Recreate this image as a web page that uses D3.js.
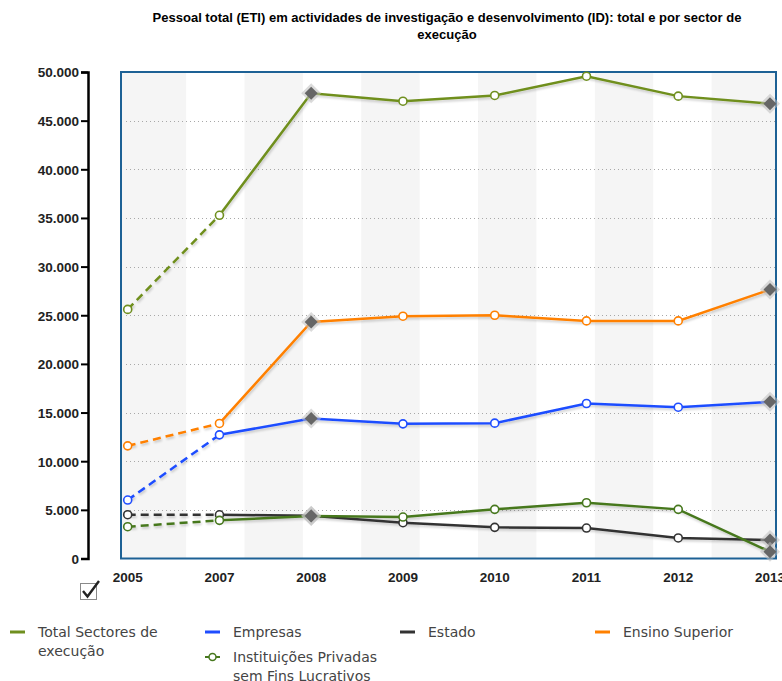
<!DOCTYPE html>
<html>
<head>
<meta charset="utf-8">
<script src="https://cdn.jsdelivr.net/npm/d3@7"></script>
<style>
  body { margin: 0; background: #fff; }
  svg { display: block; }
  .title { font: bold 13px "Liberation Sans", Arial, sans-serif; fill: #000; }
  .yaxis text { font: bold 13.5px "Liberation Sans", Arial, sans-serif; fill: #222; }
  .xlab { font: bold 13.5px "Liberation Sans", Arial, sans-serif; fill: #222; }
  .legend text { font: 14px "DejaVu Sans", Verdana, sans-serif; fill: #444; }
</style>
</head>
<body>
<div id="chart"></div>
<script>

var years = [ '2005', '2007', '2008', '2009', '2010', '2011', '2012', '2013' ];

var seriesNames = [ 'Total Sectores de execução', 'Empresas', 'Estado', 'Ensino Superior', 'Instituições Privadas sem Fins Lucrativos' ];
var seriesColors = [ '#6f8f1f', '#1f4dff', '#333333', '#ff8000', '#47781e' ];

var totalValues = [ 25600, 35270, 47820, 47000, 47590, 49570, 47520, 46740 ];
var empresasValues = [ 6010, 12710, 14390, 13840, 13910, 15930, 15550, 16100 ];
var estadoValues = [ 4500, 4490, 4390, 3680, 3200, 3130, 2110, 1900 ];
var ensinoValues = [ 11580, 13880, 24310, 24900, 25000, 24420, 24420, 27640 ];
var ipsflValues = [ 3270, 3920, 4360, 4260, 5050, 5730, 5050, 700 ];

var seriesValues = [ totalValues, empresasValues, estadoValues, ensinoValues, ipsflValues ];
// years drawn with the grey diamond marker
var diamondYears = [ '2008', '2013' ];
// last year of the provisional (dashed) part
var dashedUntil = '2007';

var yTicks = d3.range( 0, 50001, 5000 );

var width = 782, height = 681;
var frame = { left: 121, top: 72, right: 776, bottom: 558.5 };

var svg = d3.select( '#chart' ).append( 'svg' )
  .attr( 'width', width )
  .attr( 'height', height );

var defs = svg.append( 'defs' );
defs.append( 'filter' )
  .attr( 'id', 'shadow' )
  .attr( 'x', '-10%' ).attr( 'y', '-10%' )
  .attr( 'width', '120%' ).attr( 'height', '130%' )
  .append( 'feDropShadow' )
    .attr( 'dx', 1 ).attr( 'dy', 2 )
    .attr( 'stdDeviation', 1.2 )
    .attr( 'flood-color', '#000' )
    .attr( 'flood-opacity', 0.18 );

// title
var title = svg.append( 'text' )
  .attr( 'class', 'title' )
  .attr( 'text-anchor', 'middle' );
title.append( 'tspan' ).attr( 'x', 447 ).attr( 'y', 22 )
  .text( 'Pessoal total (ETI) em actividades de investigação e desenvolvimento (ID): total e por sector de' );
title.append( 'tspan' ).attr( 'x', 447 ).attr( 'y', 39 )
  .text( 'execução' );

var xScale = d3.scalePoint()
  .domain( years )
  .range( [ 127.7, 770 ] );

var yScale = d3.scaleLinear()
  .domain( [ 0, 50000 ] )
  .range( [ frame.bottom, frame.top ] );

// alternating bands, 11 even strips between first and last point
var nBands = 11;
var bandScale = d3.scaleLinear()
  .domain( [ 0, nBands ] )
  .range( [ xScale( years[ 0 ] ), xScale( years[ years.length - 1 ] ) ] );

var bandIdx = d3.range( 0, nBands, 2 );
svg.append( 'g' ).selectAll( 'rect' )
  .data( bandIdx )
  .enter()
  .append( 'rect' )
    .attr( 'x', d => d === 0 ? frame.left : bandScale( d ) )
    .attr( 'y', frame.top )
    .attr( 'width', d => ( d === nBands - 1 ? frame.right : bandScale( d + 1 ) ) - ( d === 0 ? frame.left : bandScale( d ) ) )
    .attr( 'height', frame.bottom - frame.top )
    .attr( 'fill', '#f5f5f5' );

// dotted grid
svg.append( 'g' ).selectAll( 'line' )
  .data( yTicks.filter( t => t > 0 && t < 50000 ) )
  .enter()
  .append( 'line' )
    .attr( 'x1', 126 )
    .attr( 'x2', frame.right - 1 )
    .attr( 'y1', d => Math.round( yScale( d ) ) + 0.5 )
    .attr( 'y2', d => Math.round( yScale( d ) ) + 0.5 )
    .attr( 'stroke', '#a8a8a8' )
    .attr( 'stroke-width', 1 )
    .attr( 'stroke-dasharray', '1,3' );

// frame
svg.append( 'rect' )
  .attr( 'x', frame.left )
  .attr( 'y', frame.top )
  .attr( 'width', frame.right - frame.left )
  .attr( 'height', frame.bottom - frame.top )
  .attr( 'fill', 'none' )
  .attr( 'stroke', '#1d6195' )
  .attr( 'stroke-width', 2 );

// y axis
var ptFormat = d3.formatLocale( { decimal: ',', thousands: '.', grouping: [ 3 ], currency: [ '', '€' ] } ).format( ',d' );

var yAxis = d3.axisLeft( yScale )
  .tickValues( yTicks )
  .tickFormat( ptFormat )
  .tickSize( 7 )
  .tickPadding( 2 );

var yg = svg.append( 'g' )
  .attr( 'class', 'yaxis' )
  .attr( 'transform', 'translate(88,0)' )
  .call( yAxis );
yg.select( '.domain' ).attr( 'stroke', '#000' ).attr( 'stroke-width', 2.5 );
yg.selectAll( '.tick line' ).attr( 'stroke', '#000' ).attr( 'stroke-width', 2 );
yg.selectAll( '.tick text' ).attr( 'dy', '0.36em' );

// x labels
svg.append( 'g' ).selectAll( 'text' )
  .data( years )
  .enter()
  .append( 'text' )
    .attr( 'class', 'xlab' )
    .attr( 'x', d => xScale( d ) )
    .attr( 'y', 582 )
    .attr( 'text-anchor', 'middle' )
    .text( d => d );

// checkbox
var cb = svg.append( 'g' ).attr( 'transform', 'translate(80,583)' );
cb.append( 'rect' )
  .attr( 'x', 0.5 ).attr( 'y', 0.5 )
  .attr( 'width', 16 ).attr( 'height', 16 )
  .attr( 'fill', '#fff' )
  .attr( 'stroke', '#8a8a8a' );
cb.append( 'path' )
  .attr( 'd', 'M3,8 L7.5,13.5 L19,-2' )
  .attr( 'fill', 'none' )
  .attr( 'stroke', '#222' )
  .attr( 'stroke-width', 2.4 );

// lines
var line = d3.line()
  .x( d => xScale( d.year ) )
  .y( d => yScale( d.value ) );

var series = seriesNames.map( ( name, i ) => ( {
  name: name,
  color: seriesColors[ i ],
  points: years.map( ( y, j ) => ( { year: y, value: seriesValues[ i ][ j ] } ) )
} ) );

var cut = years.indexOf( dashedUntil );

var lineG = svg.append( 'g' ).attr( 'filter', 'url(#shadow)' );

series.forEach( s => {
  lineG.append( 'path' )
    .datum( s.points.slice( 0, cut + 1 ) )
    .attr( 'd', line )
    .attr( 'fill', 'none' )
    .attr( 'stroke', s.color )
    .attr( 'stroke-width', 2.5 )
    .attr( 'stroke-dasharray', '8,5' );
  lineG.append( 'path' )
    .datum( s.points.slice( cut ) )
    .attr( 'd', line )
    .attr( 'fill', 'none' )
    .attr( 'stroke', s.color )
    .attr( 'stroke-width', 2.5 );
} );

// markers
series.forEach( s => {
  var g = svg.append( 'g' );
  g.selectAll( 'circle' )
    .data( s.points.filter( p => diamondYears.indexOf( p.year ) < 0 ) )
    .enter()
    .append( 'circle' )
      .attr( 'cx', d => xScale( d.year ) )
      .attr( 'cy', d => yScale( d.value ) )
      .attr( 'r', 4 )
      .attr( 'fill', '#fff' )
      .attr( 'stroke', s.color )
      .attr( 'stroke-width', 1.6 );

  var dg = g.selectAll( 'g.dia' )
    .data( s.points.filter( p => diamondYears.indexOf( p.year ) >= 0 ) )
    .enter()
    .append( 'g' )
      .attr( 'class', 'dia' )
      .attr( 'transform', d => 'translate(' + xScale( d.year ) + ',' + yScale( d.value ) + ')' );
  dg.append( 'path' )
    .attr( 'd', 'M0,-10 L10,0 L0,10 L-10,0 Z' )
    .attr( 'fill', '#bdbdbd' )
    .attr( 'opacity', 0.55 );
  dg.append( 'path' )
    .attr( 'd', 'M0,-6.5 L6.5,0 L0,6.5 L-6.5,0 Z' )
    .attr( 'fill', '#666' );
} );

// legend
var legendCols = [ 0, 1, 2, 3, 1 ];
var legendRows = [ 0, 0, 0, 0, 1 ];

var legend = svg.append( 'g' ).attr( 'class', 'legend' );

series.forEach( ( s, i ) => {
  var lg = legend.append( 'g' )
    .attr( 'transform', 'translate(' + ( 10 + legendCols[ i ] * 195 ) + ',' + ( 632 + legendRows[ i ] * 25 ) + ')' );
  lg.append( 'line' )
    .attr( 'x1', 0 ).attr( 'x2', 15 )
    .attr( 'y1', 0 ).attr( 'y2', 0 )
    .attr( 'stroke', s.color )
    .attr( 'stroke-width', 3 );
  if( i === 4 ) {
    lg.select( 'line' ).attr( 'stroke-width', 2 );
    lg.append( 'circle' )
      .attr( 'cx', 7.5 ).attr( 'cy', 0 ).attr( 'r', 3.5 )
      .attr( 'fill', '#fff' )
      .attr( 'stroke', s.color )
      .attr( 'stroke-width', 1.5 );
  }
  var t = lg.append( 'text' )
    .attr( 'x', 28 )
    .attr( 'y', 5 );
  // wrap label to column width
  var words = s.name.split( ' ' ), cur = [];
  var tsp = t.append( 'tspan' ).attr( 'x', 28 ).attr( 'dy', 0 );
  words.forEach( w => {
    cur.push( w );
    tsp.text( cur.join( ' ' ) );
    if( tsp.node().getComputedTextLength() > 160 && cur.length > 1 ) {
      cur.pop();
      tsp.text( cur.join( ' ' ) );
      cur = [ w ];
      tsp = t.append( 'tspan' ).attr( 'x', 28 ).attr( 'dy', 19 ).text( w );
    }
  } );
} );

</script>
</body>
</html>
